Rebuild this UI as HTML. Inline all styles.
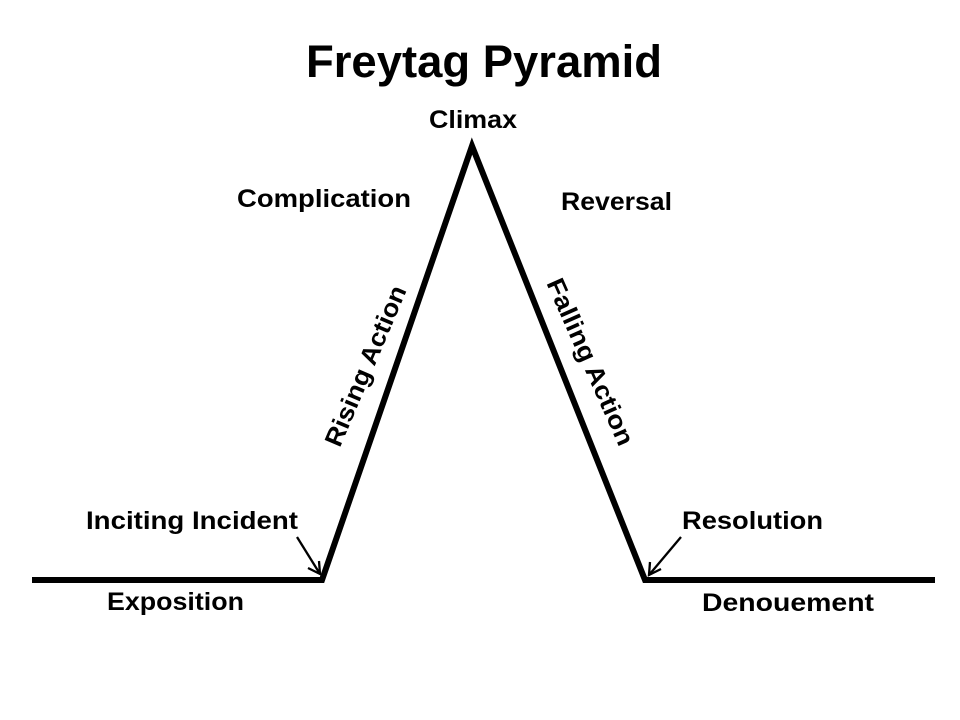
<!DOCTYPE html>
<html><head><meta charset="utf-8"><style>html,body{margin:0;padding:0;background:#fff}svg{display:block}</style></head>
<body>
<svg width="960" height="720" viewBox="0 0 960 720" xmlns="http://www.w3.org/2000/svg" font-family="Liberation Sans, sans-serif" font-weight="bold" fill="#000">
<rect width="960" height="720" fill="#fff"/>
<g stroke="#000" stroke-width="6" fill="none" stroke-linejoin="miter" stroke-miterlimit="10">
<polyline points="32,580 322,580 472,146 645,580 935,580"/>
</g>
<g stroke="#000" stroke-width="2.3" fill="none">
<line x1="297" y1="537" x2="320" y2="574"/>
<polyline points="308,568 320,574 319,561"/>
<line x1="681" y1="537" x2="649" y2="575"/>
<polyline points="650,562 649,575 661,569"/>
</g>
<text x="484" y="77" font-size="45" text-anchor="middle" textLength="356" lengthAdjust="spacingAndGlyphs">Freytag Pyramid</text>
<g font-size="25">
<text x="429" y="128" textLength="88" lengthAdjust="spacingAndGlyphs">Climax</text>
<text x="237" y="207" textLength="174" lengthAdjust="spacingAndGlyphs">Complication</text>
<text x="561" y="210" textLength="111" lengthAdjust="spacingAndGlyphs">Reversal</text>
<text x="86" y="529" textLength="212" lengthAdjust="spacingAndGlyphs">Inciting Incident</text>
<text x="682" y="529" textLength="141" lengthAdjust="spacingAndGlyphs">Resolution</text>
<text x="107" y="610" textLength="137" lengthAdjust="spacingAndGlyphs">Exposition</text>
<text x="702" y="611" textLength="172" lengthAdjust="spacingAndGlyphs">Denouement</text>
<text transform="translate(366,366) rotate(-67)" text-anchor="middle" dominant-baseline="central" textLength="172" lengthAdjust="spacingAndGlyphs">Rising Action</text>
<text transform="translate(590,362) rotate(66)" text-anchor="middle" dominant-baseline="central" textLength="180" lengthAdjust="spacingAndGlyphs">Falling Action</text>
</g>
</svg>
</body></html>
